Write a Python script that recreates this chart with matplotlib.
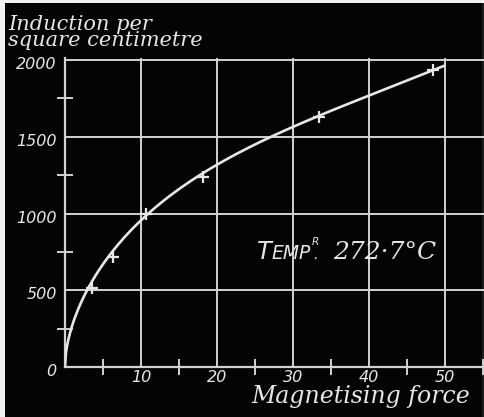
import numpy as np
import matplotlib
matplotlib.use("Agg")
import matplotlib.pyplot as plt
from matplotlib.patches import Rectangle
from matplotlib.ticker import FixedLocator
from matplotlib.transforms import IdentityTransform, ScaledTranslation

# Observations: magnetising force H against induction B at 272.7 °C
force = [3.6, 6.3, 10.7, 18.2, 33.4, 48.4]
induction = [515, 715, 1000, 1235, 1630, 1935]

# Knots of the smooth magnetisation curve drawn through the observations
curve_force = [0, 0.8, 3.0, 10, 20, 30, 40, 50]
curve_induction = [0, 250, 500, 967, 1311, 1558, 1778, 1960]

x_ticks = [10, 20, 30, 40, 50]
x_minor = [5, 15, 25, 35, 45, 55]
y_ticks = [0, 500, 1000, 1500, 2000]
y_minor = [250, 750, 1250, 1750]

INK = "#e6e6e6"
GRID = "#d2d2d2"
BG = "#040404"

W, H = 485, 417
fig = plt.figure(figsize=(W / 100, H / 100), dpi=100, facecolor=BG)

# pale paper edge around the plate
fig.patches.append(Rectangle((0, 0), 5 / W, 1, transform=fig.transFigure,
                             facecolor="#f2f2f2", edgecolor="none", zorder=-2))
fig.patches.append(Rectangle((0, 1 - 3 / H), 1, 3 / H, transform=fig.transFigure,
                             facecolor="#f2f2f2", edgecolor="none", zorder=-2))
fig.patches.append(Rectangle((1 - 3 / W, 0), 3 / W, 1 - 3 / H, transform=fig.transFigure,
                             facecolor="#1c1c1c", edgecolor="none", zorder=-2))

ax = fig.add_axes([65 / W, 50 / H, 420 / W, 309.3 / H])
ax.set_facecolor("none")
ax.set_xlim(0, 55.3)
ax.set_ylim(0, 2015)

# smooth curve: least-squares polynomial in sqrt(H), passing through the origin
cf = np.asarray(curve_force, float)
cb = np.asarray(curve_induction, float)
u = np.sqrt(cf)
A = np.column_stack([u, u ** 2, u ** 3, u ** 4])
coef, *_ = np.linalg.lstsq(A, cb, rcond=None)
hh = np.linspace(0, cf[-1], 400)
uu = np.sqrt(hh)
bb = np.column_stack([uu, uu ** 2, uu ** 3, uu ** 4]) @ coef
ax.plot(hh, bb, color=INK, lw=1.9, solid_capstyle="round", zorder=3)

ax.plot(force, induction, linestyle="none", marker="+", markersize=8,
        markeredgewidth=1.6, color=INK, zorder=4)

# axes, grid and ticks
for side in ("top", "right"):
    ax.spines[side].set_visible(False)
for side in ("left", "bottom"):
    ax.spines[side].set_color(GRID)
    ax.spines[side].set_linewidth(1.6)

ax.xaxis.set_major_locator(FixedLocator(x_ticks))
ax.yaxis.set_major_locator(FixedLocator(y_ticks))
ax.xaxis.set_minor_locator(FixedLocator(x_minor))
ax.yaxis.set_minor_locator(FixedLocator(y_minor))
ax.grid(True, which="major", color=GRID, lw=1.4)
ax.tick_params(which="major", length=0, colors=INK, labelsize=11.5)
ax.tick_params(axis="x", which="major", pad=2.5)
ax.tick_params(axis="y", which="major", pad=6)
ax.tick_params(which="minor", direction="inout", length=11, width=1.4, color=GRID)
for lab in ax.get_xticklabels() + ax.get_yticklabels():
    lab.set_fontstyle("oblique")
    lab.set_color(INK)
shift_down = ScaledTranslation(0, -3 / 100, fig.dpi_scale_trans)
for tick in ax.yaxis.get_major_ticks():
    tick.label1.set_transform(tick.label1.get_transform() + shift_down)

# captions
fig.text(8 / W, 1 - 46 / H, "Induction per\nsquare centimetre", color=INK,
         fontsize=15, family="DejaVu Serif", style="italic", ha="left",
         va="baseline", linespacing=0.8)
fig.text(470 / W, 1 - 403 / H, "Magnetising force", color=INK, fontsize=17,
         family="DejaVu Serif", style="italic", ha="right", va="baseline")

# temperature note in small capitals, laid out piece by piece in pixels
fig.canvas.draw()
renderer = fig.canvas.get_renderer()
px, py = ax.transData.transform((25.3, 704))


def piece(s, x, y, size, family="DejaVu Sans", style="oblique", ha="left"):
    t = ax.text(x, y, s, transform=IdentityTransform(), color=INK, fontsize=size,
                family=family, style=style, ha=ha, va="baseline")
    return t, t.get_window_extent(renderer).width


_, w = piece("T", px, py, 17.5)
px += w - 1
_, w = piece("EMP", px, py, 13.5)
px += w + 1
_, w = piece("R", px, py + 14, 7.5)
piece(".", px + w / 2, py, 10, ha="center")
px += w + 15
piece("272·7°C", px, py, 18, family="DejaVu Serif", style="italic")

fig.savefig("out.png", dpi=100, facecolor=BG)
